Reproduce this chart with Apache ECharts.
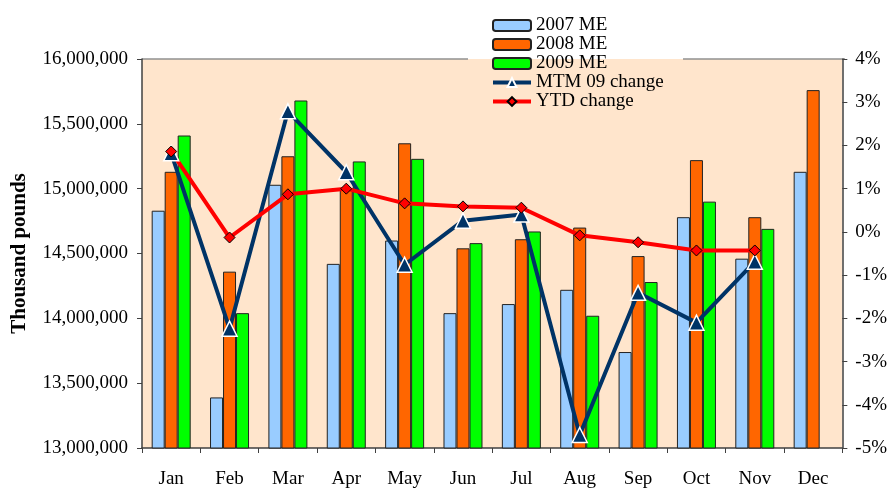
<!DOCTYPE html>
<html>
<head>
<meta charset="utf-8">
<script src="https://cdn.jsdelivr.net/npm/echarts@6/dist/echarts.min.js"></script>
<style>
  html, body { margin: 0; padding: 0; background: #ffffff; }
  #chart { width: 890px; height: 489px; }
</style>
</head>
<body>
<div id="chart"></div>
<script>
// data
const months = ['Jan', 'Feb', 'Mar', 'Apr', 'May', 'Jun', 'Jul', 'Aug', 'Sep', 'Oct', 'Nov', 'Dec'];
const me2007 = [14830000, 13390000, 15030000, 14420000, 14600000, 14040000, 14110000, 14220000, 13740000, 14780000, 14460000, 15130000];
const me2008 = [15130000, 14360000, 15250000, 15000000, 15350000, 14540000, 14610000, 14700000, 14480000, 15220000, 14780000, 15760000];
const me2009 = [15410000, 14040000, 15680000, 15210000, 15230000, 14580000, 14670000, 14020000, 14280000, 14900000, 14690000, null];
const mtm09 = [1.82, -2.24, 2.79, 1.38, -0.76, 0.26, 0.40, -4.70, -1.41, -2.10, -0.69, null];
const ytd = [1.86, -0.13, 0.87, 1.00, 0.66, 0.59, 0.56, -0.08, -0.24, -0.43, -0.43, null];

const font = 'Liberation Serif';
const axisColor = '#404040';

const chart = echarts.init(document.getElementById('chart'));

// 柱子样式
const barStyle = (color) => ({
  color: color,
  borderColor: '#222222',
  borderWidth: 1
});

const option = {
  backgroundColor: '#ffffff',
  textStyle: { fontFamily: font },
  grid: {
    left: 142,
    right: 45,
    top: 59,
    bottom: 41,
    show: true,
    backgroundColor: '#FFE5CC',
    borderWidth: 0
  },
  legend: {
    orient: 'vertical',
    left: 486,
    top: 11,
    itemWidth: 38,
    itemHeight: 11,
    itemGap: 0,
    lineStyle: { width: 4 },
    textStyle: { fontFamily: font, fontSize: 19, color: '#000000' },
    data: ['2007 ME', '2008 ME', '2009 ME', 'MTM 09 change', 'YTD change']
  },
  xAxis: {
    type: 'category',
    data: months,
    axisLine: { onZero: false, lineStyle: { color: axisColor, width: 1.5 } },
    axisTick: { show: true, length: 5, lineStyle: { color: axisColor } },
    axisLabel: { fontFamily: font, fontSize: 19, color: '#000000', margin: 22 }
  },
  yAxis: [
    {
      type: 'value',
      min: 13000000,
      max: 16000000,
      interval: 500000,
      name: 'Thousand pounds',
      nameLocation: 'middle',
      nameGap: 112,
      nameTextStyle: { fontFamily: font, fontSize: 21, fontWeight: 'bold', color: '#000000' },
      axisLine: { show: true, lineStyle: { color: axisColor, width: 1.5 } },
      axisTick: { show: true, length: 5, lineStyle: { color: axisColor } },
      splitLine: { show: false },
      axisLabel: {
        fontFamily: font,
        fontSize: 19,
        color: '#000000',
        margin: 14,
        formatter: (v) => v.toLocaleString('en-US')
      }
    },
    {
      type: 'value',
      min: -5,
      max: 4,
      interval: 1,
      position: 'right',
      axisLine: { show: true, onZero: false, lineStyle: { color: axisColor, width: 1.5 } },
      axisTick: { show: true, length: 5, lineStyle: { color: axisColor } },
      splitLine: { show: false },
      axisLabel: { fontFamily: font, fontSize: 19, color: '#000000', margin: 13, formatter: '{value}%' }
    }
  ],
  graphic: [
    // plot top border, broken where the legend sits
    { type: 'line', shape: { x1: 142, y1: 59, x2: 468, y2: 59 }, style: { stroke: '#909090', lineWidth: 1.5 } },
    { type: 'line', shape: { x1: 683, y1: 59, x2: 845, y2: 59 }, style: { stroke: '#909090', lineWidth: 1.5 } }
  ],
  series: [
    { name: '2007 ME', type: 'bar', barWidth: 13, barGap: '0%', itemStyle: barStyle('#99CCFF'), data: me2007 },
    { name: '2008 ME', type: 'bar', barWidth: 13, barGap: '0%', itemStyle: barStyle('#FF6600'), data: me2008 },
    { name: '2009 ME', type: 'bar', barWidth: 13, barGap: '0%', itemStyle: barStyle('#00FF00'), data: me2009 },
    {
      name: 'MTM 09 change',
      type: 'line',
      yAxisIndex: 1,
      symbol: 'triangle',
      symbolSize: 15,
      lineStyle: { color: '#003366', width: 4 },
      itemStyle: { color: '#003366', borderColor: '#ffffff', borderWidth: 1.5 },
      data: mtm09
    },
    {
      name: 'YTD change',
      type: 'line',
      yAxisIndex: 1,
      symbol: 'diamond',
      symbolSize: 11,
      lineStyle: { color: '#FF0000', width: 4 },
      itemStyle: { color: '#FF0000', borderColor: '#000000', borderWidth: 1 },
      data: ytd
    }
  ]
};

chart.setOption(option);
</script>
</body>
</html>
